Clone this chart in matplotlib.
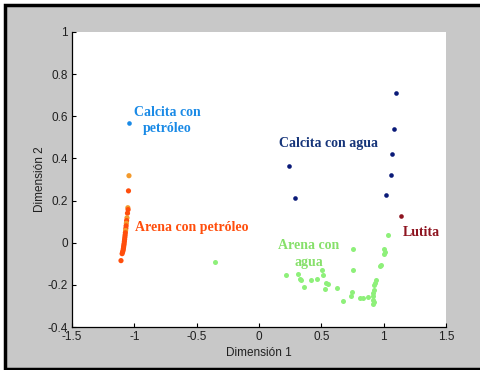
import matplotlib
matplotlib.use("Agg")
from matplotlib import pyplot as plt
from matplotlib.patches import Rectangle

# ---- data ----
calcita_petroleo_x = [-1.043]
calcita_petroleo_y = [0.570]

arena_petroleo_x = [-1.043, -1.047, -1.052, -1.050, -1.055, -1.059, -1.062, -1.064,
                    -1.066, -1.068, -1.070, -1.072, -1.074, -1.076, -1.078, -1.080,
                    -1.082, -1.084, -1.086, -1.088, -1.090, -1.094, -1.098, -1.107]
arena_petroleo_y = [0.318, 0.246, 0.166, 0.157, 0.140, 0.118, 0.105, 0.092,
                    0.080, 0.068, 0.058, 0.047, 0.036, 0.026, 0.016, 0.006,
                    -0.004, -0.012, -0.020, -0.028, -0.036, -0.044, -0.052, -0.085]
# which of those dots are the lighter orange ones
arena_petroleo_light = [0, 2, 5, 7, 10]

calcita_agua_x = [1.100, 1.080, 1.069, 1.056, 1.016, 0.240, 0.290]
calcita_agua_y = [0.709, 0.542, 0.422, 0.319, 0.227, 0.365, 0.210]

lutita_x = [1.138]
lutita_y = [0.126]

arena_agua_x = [1.037, 1.005, 1.008, 1.002, 0.756, 0.970, 0.978, 0.756, 0.935, 0.930,
                0.213, 0.315, 0.328, 0.340, 0.414, 0.462, 0.505, 0.510, 0.537, 0.556,
                0.363, 0.529, 0.622, 0.676, 0.743, 0.735, 0.810, 0.836, 0.876, 0.922,
                0.918, 0.918, 0.915, 0.922, 0.915, 0.925, -0.353]
arena_agua_y = [0.036, -0.030, -0.042, -0.052, -0.030, -0.112, -0.104, -0.128, -0.179, -0.190,
                -0.155, -0.147, -0.173, -0.178, -0.177, -0.171, -0.131, -0.152, -0.189, -0.197,
                -0.210, -0.218, -0.213, -0.278, -0.235, -0.254, -0.261, -0.264, -0.259, -0.226,
                -0.238, -0.254, -0.270, -0.283, -0.289, -0.199, -0.090]

x_ticks = [-1.5, -1, -0.5, 0, 0.5, 1, 1.5]
x_tick_labels = ['-1.5', '-1', '-0.5', '0', '0.5', '1', '1.5']
y_ticks = [-0.4, -0.2, 0, 0.2, 0.4, 0.6, 0.8, 1]
y_tick_labels = ['-0.4', '-0.2', '0', '0.2', '0.4', '0.6', '0.8', '1']

c_calcita_pet = '#1a8ae6'
c_arena_pet = '#ff4e0c'
c_arena_pet_light = '#f39a2c'
c_calcita_agua = '#0a1a78'
c_lutita = '#8e1420'
c_arena_agua = '#8ef07a'

fig = plt.figure(figsize=(4.8, 3.7), dpi=100)
fig.patch.set_facecolor('white')
# grey window with black frame
fig.patches.append(Rectangle((5 / 480, 1 - 369 / 370), 1.0, 364 / 370,
                             transform=fig.transFigure, facecolor='#c8c8c8',
                             edgecolor='black', linewidth=2.5, zorder=-10))

ax = fig.add_axes([72 / 480, 1 - 327 / 370, 374 / 480, 295 / 370])
ax.set_zorder(5)
ax.set_facecolor('white')

ms = 11
ax.scatter(calcita_petroleo_x, calcita_petroleo_y, s=ms, color=c_calcita_pet, lw=0)
pet_colors = [c_arena_pet_light if i in arena_petroleo_light else c_arena_pet
              for i in range(len(arena_petroleo_x))]
ax.scatter(arena_petroleo_x, arena_petroleo_y, s=ms + 3, color=pet_colors, lw=0)
ax.scatter(calcita_agua_x, calcita_agua_y, s=ms, color=c_calcita_agua, lw=0)
ax.scatter(lutita_x, lutita_y, s=ms, color=c_lutita, lw=0)
ax.scatter(arena_agua_x, arena_agua_y, s=ms + 2, color=c_arena_agua, lw=0)

lab = dict(family='Liberation Serif', weight='bold', fontsize=10)
ax.text(-0.734, 0.578, 'Calcita con\npetróleo', color=c_calcita_pet,
        ha='center', va='center', linespacing=1.3, **lab)
ax.text(-0.995, 0.072, 'Arena con petróleo', color=c_arena_pet,
        ha='left', va='center', **lab)
ax.text(0.554, 0.469, 'Calcita con agua', color='#16357a',
        ha='center', va='center', **lab)
ax.text(1.30, 0.047, 'Lutita', color=c_lutita, ha='center', va='center', **lab)
ax.text(0.40, -0.052, 'Arena con\nagua', color='#86e06a',
        ha='center', va='center', linespacing=1.4, **lab)

ax.set_xlim(-1.5, 1.5)
ax.set_ylim(-0.4, 1)
ax.set_xticks(x_ticks)
ax.set_xticklabels(x_tick_labels)
ax.set_yticks(y_ticks)
ax.set_yticklabels(y_tick_labels)
ax.tick_params(direction='in', length=3, width=0.8, labelsize=8.5,
               labelcolor='#202020', pad=3)
for tl in ax.get_xticklabels() + ax.get_yticklabels():
    tl.set_family('Liberation Sans')
ax.spines['top'].set_visible(False)
ax.spines['right'].set_visible(False)
ax.spines['left'].set_linewidth(0.9)
ax.spines['bottom'].set_linewidth(0.9)

ax.set_xlabel('Dimensión 1', fontsize=8.5, family='Liberation Sans',
              color='#202020', labelpad=3)
ax.set_ylabel('Dimensión 2', fontsize=8.5, family='Liberation Sans',
              color='#202020', labelpad=1)

fig.savefig('out.png', dpi=100, facecolor=fig.get_facecolor())
